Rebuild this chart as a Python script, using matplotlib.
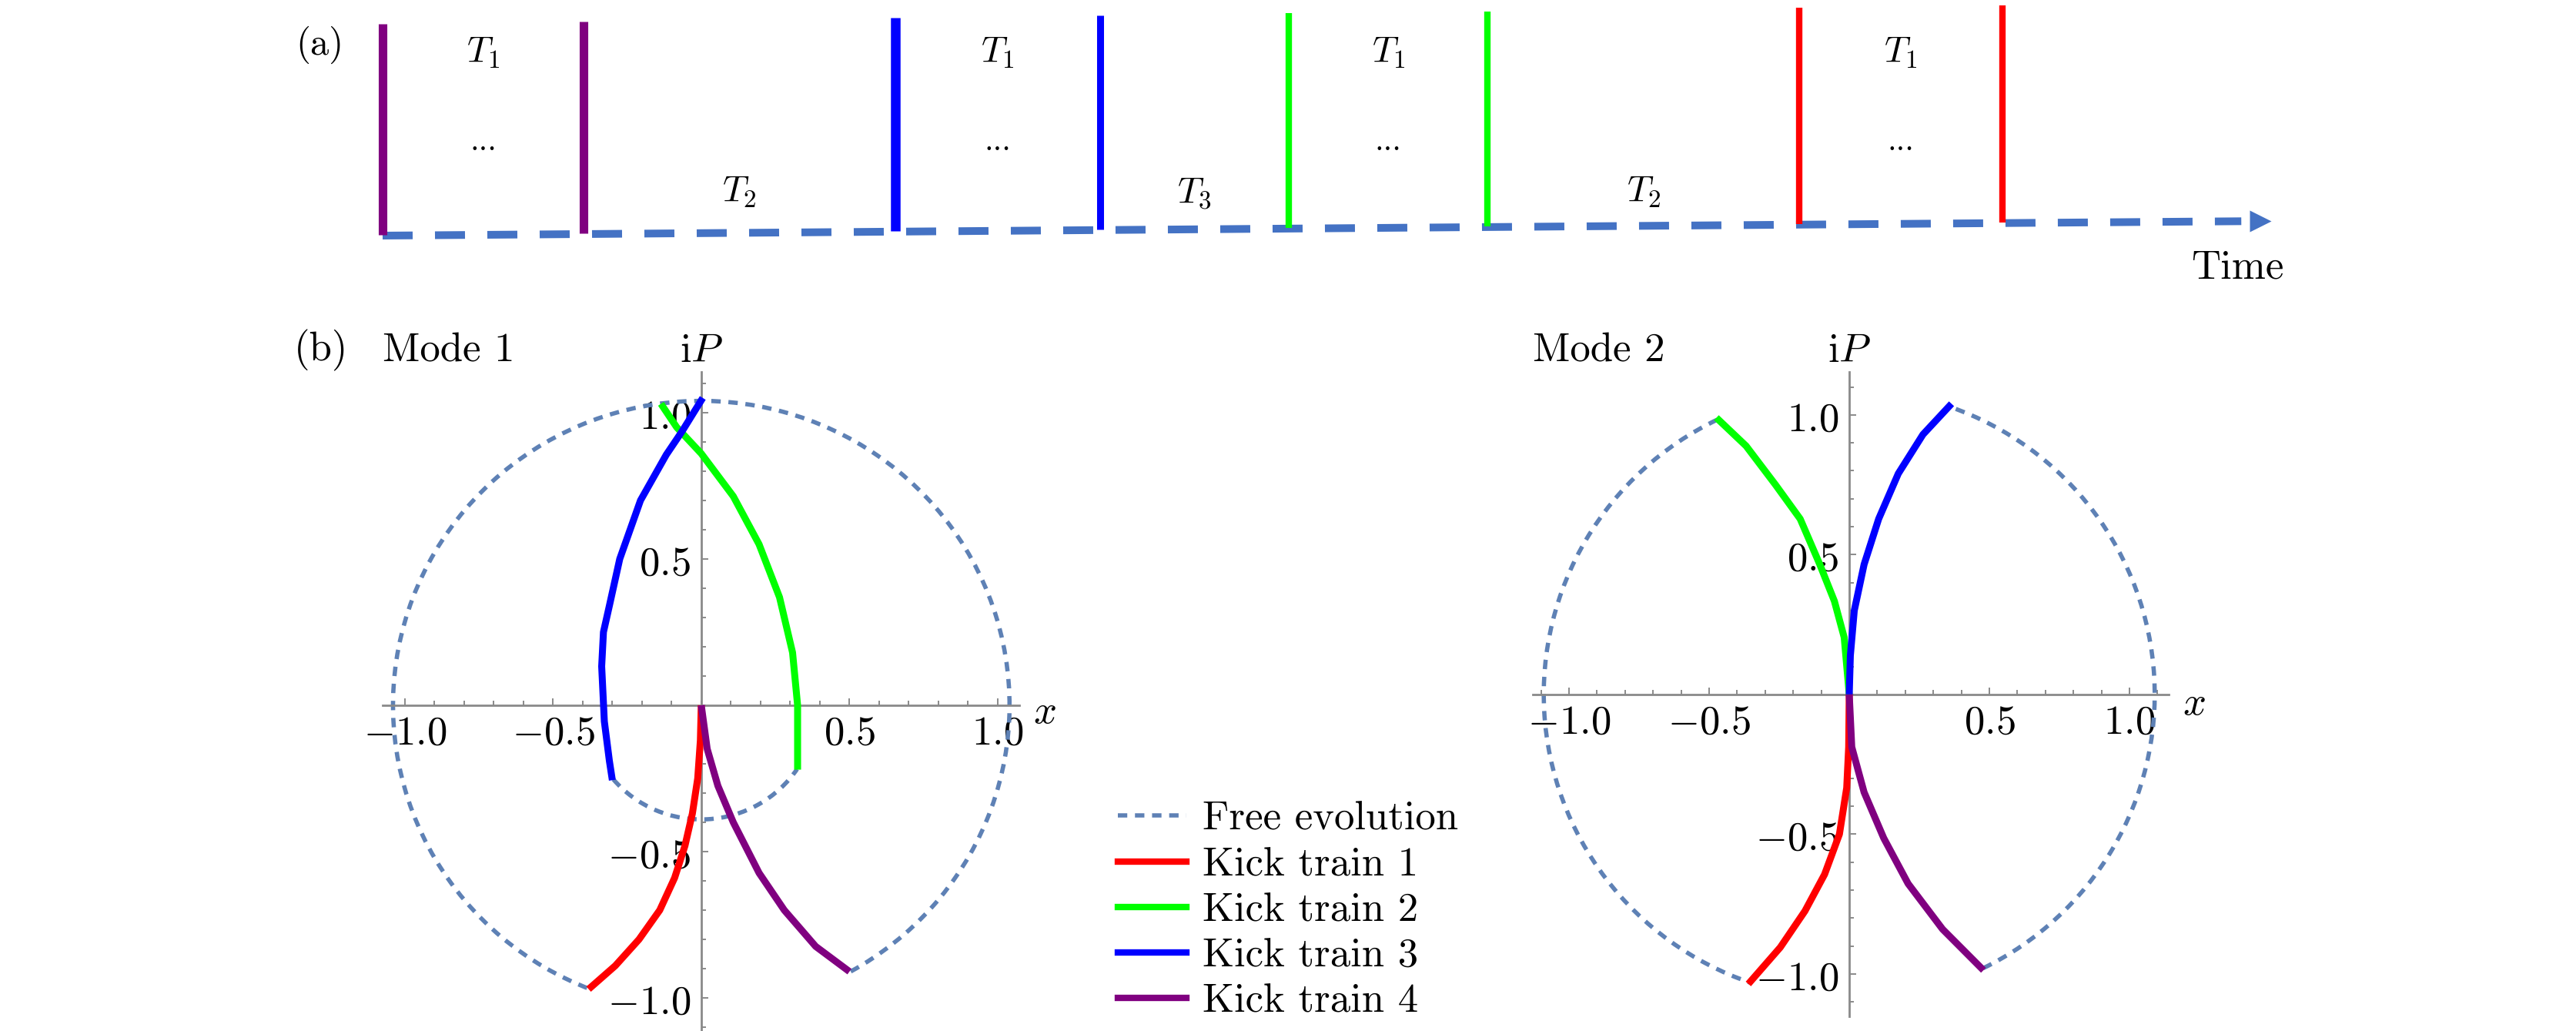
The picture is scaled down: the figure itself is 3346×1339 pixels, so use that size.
import numpy as np
import matplotlib
matplotlib.use('Agg')
import matplotlib.pyplot as plt
from matplotlib.patches import Arc
from matplotlib.lines import Line2D
from matplotlib.ticker import MultipleLocator

plt.rcParams['mathtext.fontset'] = 'cm'

W, H = 3346, 1339  # output size in pixels

# ---- panel (a): kick sequence, times in units of T1 ----
kick_times = [0.0, 1.0, 2.55, 3.57, 4.51, 5.50, 7.05, 8.06]
kick_trains = [4, 4, 3, 3, 2, 2, 1, 1]
gap_labels = [r'$T_2$', r'$T_3$', r'$T_2$']
time_end = 9.4

# ---- panel (b): phase space trajectories ----
# free evolution arcs: radius, start angle, end angle (deg)
m1_free_r = [1.04, 0.39]
m1_free_theta = [(-61, 249), (-139.5, -34)]
m2_free_r = [1.09, 1.09]
m2_free_theta = [(115.6, 251), (-64, 70.7)]

# mode 1 kick trains
m1_k1_x = [0, -0.003, -0.012, -0.03, -0.055, -0.09, -0.14, -0.21, -0.29, -0.38]
m1_k1_y = [0, -0.12, -0.25, -0.37, -0.48, -0.59, -0.70, -0.80, -0.89, -0.97]
m1_k2_x = [-0.136, -0.083, 0.0, 0.108, 0.195, 0.264, 0.308, 0.325, 0.325]
m1_k2_y = [1.03, 0.95, 0.86, 0.714, 0.55, 0.369, 0.18, 0.0, -0.22]
m1_k3_x = [-0.30, -0.31, -0.327, -0.336, -0.33, -0.31, -0.275, -0.205, -0.118, -0.066, 0.005]
m1_k3_y = [-0.256, -0.19, -0.055, 0.133, 0.25, 0.34, 0.50, 0.70, 0.856, 0.934, 1.05]
m1_k4_x = [0, 0.02, 0.056, 0.108, 0.195, 0.28, 0.386, 0.5]
m1_k4_y = [0, -0.149, -0.275, -0.40, -0.573, -0.70, -0.824, -0.91]

# mode 2 kick trains
m2_k1_x = [0, -0.002, -0.009, -0.035, -0.088, -0.158, -0.246, -0.36]
m2_k1_y = [0, -0.188, -0.334, -0.50, -0.644, -0.775, -0.905, -1.036]
m2_k2_x = [0, -0.018, -0.053, -0.105, -0.175, -0.263, -0.368, -0.474]
m2_k2_y = [0, 0.204, 0.334, 0.465, 0.628, 0.75, 0.889, 0.99]
m2_k3_x = [0, 0.004, 0.018, 0.053, 0.105, 0.175, 0.263, 0.365]
m2_k3_y = [0, 0.139, 0.30, 0.465, 0.628, 0.79, 0.93, 1.04]
m2_k4_x = [0, 0.009, 0.053, 0.123, 0.21, 0.333, 0.479]
m2_k4_y = [0, -0.188, -0.35, -0.514, -0.677, -0.84, -0.987]

legend_labels = ['Free evolution', 'Kick train 1', 'Kick train 2',
                 'Kick train 3', 'Kick train 4']

train_colors = {1: '#ff0000', 2: '#00ff00', 3: '#0000ff', 4: '#800080'}
free_color = '#5e81b5'
axis_color = '#8a8a8a'
free_dash = (0, (2.2, 1.8))
FS = 38


def fig_box(left, top, right, bottom):
    return [left / W, 1 - bottom / H, (right - left) / W, (bottom - top) / H]


fig = plt.figure(figsize=(W / 100, H / 100), dpi=100)

# ---------------- panel (a) ----------------
axa = fig.add_axes([0, 1 - 400 / H, 1, 400 / H])
axa.set_xlim(-497 / 261, (W - 497) / 261)
axa.set_ylim(400, 0)
axa.axis('off')


def base(t):
    return 306 - 2.02 * t


def top(t):
    return 31 - 3.0 * t


t_line = np.array([0, 9.25])
axa.plot(t_line, base(t_line), color='#4472c4', lw=7.2, dashes=(3.9, 2.9),
         dash_capstyle='butt', zorder=1)
axa.plot([9.345], [base(9.345)], marker='>', ms=20, color='#4472c4',
         mec='none', zorder=1)

kick_lw = [8, 8, 9, 6.5, 6, 6, 6, 6]
for t, k, lw in zip(kick_times, kick_trains, kick_lw):
    axa.plot([t, t], [base(t) - 1, top(t)], color=train_colors[k], lw=lw,
             solid_capstyle='butt', zorder=2)

for i in range(0, len(kick_times), 2):
    tm = (kick_times[i] + kick_times[i + 1]) / 2
    axa.text(tm, 81, r'$T_1$', fontsize=34, ha='center', va='baseline')
    axa.text(tm, 195, '...', fontsize=30, ha='center', va='baseline',
             family='cmr10')
for i, lab in enumerate(gap_labels):
    tm = (kick_times[2 * i + 1] + kick_times[2 * i + 2]) / 2
    axa.text(tm, 262, lab, fontsize=34, ha='center', va='baseline')

fig.text(415 / W, 1 - 58 / H, '(a)', fontsize=35, family='cmr10',
         ha='center', va='center')
fig.text(2906 / W, 1 - 348 / H, 'Time', fontsize=38, family='cmr10',
         ha='center', va='center')

# ---------------- panel (b) ----------------
ticks = [-1.0, -0.5, 0.5, 1.0]
tick_labels = [r'$-1.0$', r'$-0.5$', r'$0.5$', r'$1.0$']


def style_axes(ax, xlim, ylim):
    ax.set_xlim(*xlim)
    ax.set_ylim(*ylim)
    ax.patch.set_alpha(0)
    ax.set_axisbelow(True)
    for s in ['top', 'right']:
        ax.spines[s].set_visible(False)
    for s in ['left', 'bottom']:
        ax.spines[s].set_position(('data', 0))
        ax.spines[s].set_color(axis_color)
        ax.spines[s].set_linewidth(2.0)
    ax.set_xticks(ticks, tick_labels)
    ax.set_yticks(ticks, tick_labels)
    ax.xaxis.set_minor_locator(MultipleLocator(0.1))
    ax.yaxis.set_minor_locator(MultipleLocator(0.1))
    ax.tick_params(which='both', direction='in', color=axis_color, width=1.4,
                   labelsize=FS)
    ax.tick_params(which='major', length=6.5)
    ax.tick_params(which='minor', length=4)
    ax.tick_params(axis='x', pad=7)
    ax.tick_params(axis='y', pad=10)


def draw_mode(ax, free_r, free_theta, trains):
    for r, (t1, t2) in zip(free_r, free_theta):
        arc = Arc((0, 0), 2 * r, 2 * r, theta1=t1, theta2=t2,
                  color=free_color, lw=4, linestyle=free_dash, zorder=2)
        arc.set_capstyle('butt')
        ax.add_patch(arc)
    for k, (xs, ys) in trains.items():
        ax.plot(xs, ys, color=train_colors[k], lw=6.5, zorder=3,
                solid_capstyle='butt', solid_joinstyle='round')


ax1 = fig.add_axes(fig_box(497, 483, 1324, 1339))
style_axes(ax1, (-1.075, 1.073), (-1.113, 1.139))
draw_mode(ax1, m1_free_r, m1_free_theta,
          {1: (m1_k1_x, m1_k1_y), 2: (m1_k2_x, m1_k2_y),
           3: (m1_k3_x, m1_k3_y), 4: (m1_k4_x, m1_k4_y)})
ax1.text(1.158, -0.02, r'$x$', fontsize=FS, ha='center', va='center',
         clip_on=False)
ax1.text(0.0, 1.213, r'$\mathrm{i}P$', fontsize=FS, ha='center',
         va='center', clip_on=False)

ax2 = fig.add_axes(fig_box(1991, 483, 2817, 1320))
style_axes(ax2, (-1.129, 1.140), (-1.152, 1.154))
draw_mode(ax2, m2_free_r, m2_free_theta,
          {1: (m2_k1_x, m2_k1_y), 2: (m2_k2_x, m2_k2_y),
           3: (m2_k3_x, m2_k3_y), 4: (m2_k4_x, m2_k4_y)})
ax2.text(1.23, -0.03, r'$x$', fontsize=FS, ha='center', va='center',
         clip_on=False)
ax2.text(0.0, 1.23, r'$\mathrm{i}P$', fontsize=FS, ha='center',
         va='center', clip_on=False)

fig.text(417 / W, 1 - 455 / H, '(b)', fontsize=FS, family='cmr10',
         ha='center', va='center')
fig.text(497 / W, 1 - 455 / H, 'Mode 1', fontsize=FS, family='cmr10',
         ha='left', va='center')
fig.text(1991 / W, 1 - 455 / H, 'Mode 2', fontsize=FS, family='cmr10',
         ha='left', va='center')

# legend
handles = [Line2D([], [], color=free_color, lw=4, linestyle=free_dash)]
handles += [Line2D([], [], color=train_colors[k], lw=6) for k in [1, 2, 3, 4]]
fig.legend(handles, legend_labels, loc='upper left',
           bbox_to_anchor=(1452 / W, 1 - 1041 / H), frameon=False,
           prop={'family': 'cmr10', 'size': FS}, borderpad=0,
           borderaxespad=0, handlelength=89 / 52.8, handletextpad=0.4,
           labelspacing=0.23)

fig.savefig('out.png', dpi=100)
